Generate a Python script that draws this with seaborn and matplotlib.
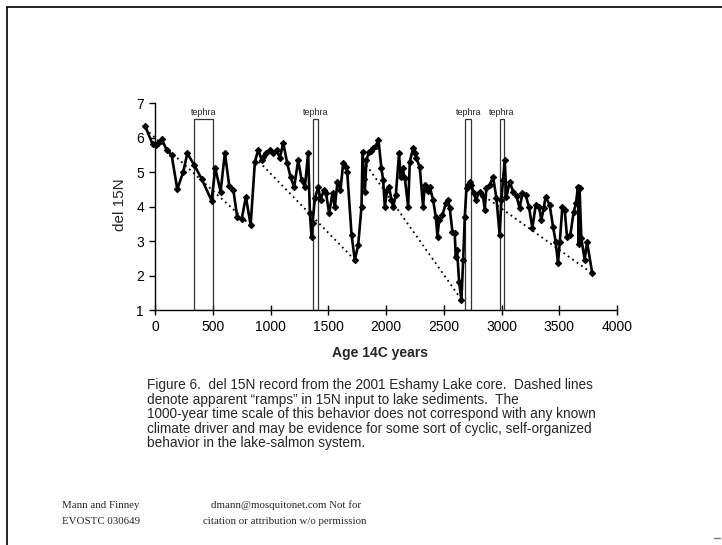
import matplotlib
matplotlib.use("Agg")
import matplotlib.pyplot as plt
from matplotlib.patches import Rectangle
from matplotlib.lines import Line2D
import seaborn as sns
import pandas as pd

# del 15N record, Eshamy Lake 2001 core (age in 14C years)
age_14c = [-85, -20, 10, 30, 58, 101, 144, 193, 245, 280, 340, 404, 490, 522, 568,
           605, 643, 678, 712, 750, 787, 828, 865, 894, 923, 937, 965, 995, 1023,
           1052, 1081, 1110, 1145, 1174, 1205, 1240, 1269, 1298, 1326, 1341, 1355,
           1364, 1384, 1413, 1433, 1462, 1480, 1508, 1537, 1557, 1580, 1606, 1629,
           1652, 1664, 1702, 1730, 1759, 1788, 1797, 1810, 1817, 1831, 1854, 1870,
           1889, 1910, 1935, 1960, 1975, 1990, 2010, 2027, 2047, 2062, 2085, 2113,
           2126, 2143, 2163, 2192, 2206, 2235, 2250, 2263, 2292, 2321, 2336, 2350,
           2365, 2379, 2408, 2431, 2446, 2460, 2489, 2517, 2537, 2552, 2575, 2595,
           2604, 2615, 2633, 2653, 2668, 2682, 2697, 2711, 2725, 2740, 2760, 2777,
           2811, 2840, 2855, 2869, 2898, 2927, 2956, 2984, 2999, 3013, 3028, 3043,
           3071, 3100, 3130, 3157, 3181, 3209, 3238, 3267, 3296, 3325, 3345, 3365,
           3382, 3417, 3446, 3469, 3489, 3505, 3527, 3547, 3567, 3596, 3625, 3645,
           3662, 3668, 3676, 3691, 3720, 3740, 3786]
del15n = [6.33, 5.80, 5.78, 5.85, 5.95, 5.64, 5.49, 4.50, 5.01, 5.54, 5.20, 4.80, 4.17,
          5.11, 4.43, 5.56, 4.59, 4.48, 3.70, 3.63, 4.28, 3.46, 5.30, 5.64, 5.35, 5.44,
          5.55, 5.64, 5.54, 5.64, 5.40, 5.85, 5.25, 4.85, 4.56, 5.35, 4.77, 4.56, 5.56,
          3.80, 3.13, 3.51, 4.24, 4.56, 4.19, 4.48, 4.40, 3.80, 4.40, 3.98, 4.72, 4.48,
          5.25, 5.15, 5.01, 3.17, 2.45, 2.88, 3.99, 5.59, 4.80, 4.43, 5.35, 5.59, 5.62,
          5.69, 5.75, 5.93, 5.11, 4.77, 3.99, 4.48, 4.57, 4.19, 3.99, 4.33, 5.54, 4.86,
          5.11, 4.82, 3.99, 5.30, 5.69, 5.55, 5.40, 5.15, 3.99, 4.62, 4.53, 4.45, 4.56,
          4.19, 3.70, 3.13, 3.61, 3.75, 4.09, 4.19, 3.95, 3.27, 3.22, 2.55, 2.75, 1.82,
          1.29, 2.45, 3.70, 4.53, 4.62, 4.70, 4.62, 4.40, 4.19, 4.43, 4.30, 3.90, 4.53,
          4.62, 4.86, 4.24, 3.17, 4.19, 4.77, 5.35, 4.28, 4.72, 4.43, 4.30, 3.95, 4.38,
          4.33, 3.99, 3.37, 4.04, 3.99, 3.61, 3.95, 4.28, 4.04, 3.42, 2.98, 2.35, 2.98,
          3.99, 3.90, 3.13, 3.17, 3.85, 4.10, 4.57, 2.91, 4.53, 3.08, 2.45, 2.98, 2.06]

# apparent "ramps" in 15N input (start and end of each)
ramp_age_start = [-50, 900, 1830, 2850]
ramp_age_end = [830, 1730, 2655, 3786]
ramp_val_start = [6.15, 5.30, 5.20, 4.30]
ramp_val_end = [3.45, 2.45, 1.29, 2.06]

# tephra layers (age range)
tephra_start = [340, 1364, 2688, 2990]
tephra_end = [505, 1413, 2736, 3019]
tephra_label = ["tephra", "tephra", "tephra", "tephra"]

x_ticks = [0, 500, 1000, 1500, 2000, 2500, 3000, 3500, 4000]
y_ticks = [1, 2, 3, 4, 5, 6, 7]

sns.set_theme(style="white")
plt.rcParams["font.family"] = ["Liberation Sans", "DejaVu Sans"]

fig = plt.figure(figsize=(7.22, 5.45), dpi=100)
fig.patch.set_facecolor("white")
ax = fig.add_axes([143.45 / 722, 1 - 310 / 545, (617 - 143.45) / 722, 207 / 545])
ax.set_facecolor("white")

# tephra boxes
for t0, t1, lab in zip(tephra_start, tephra_end, tephra_label):
    ax.add_patch(Rectangle((t0, 1), t1 - t0, 5.53, fill=False, edgecolor="#333333",
                           linewidth=0.9, zorder=1))
    ax.text((t0 + t1) / 2, 6.72, lab, ha="center", va="center", fontsize=6.5,
            color="#222222")

# ramps
ramps = pd.DataFrame({
    "age": [a for pair in zip(ramp_age_start, ramp_age_end) for a in pair],
    "val": [v for pair in zip(ramp_val_start, ramp_val_end) for v in pair],
    "ramp": [i for i in range(len(ramp_age_start)) for _ in range(2)],
})
for _, grp in ramps.groupby("ramp"):
    sns.lineplot(data=grp, x="age", y="val", ax=ax, color="black", linewidth=1.3,
                 linestyle=(0, (1, 2)), sort=False, zorder=2)

# main record
record = pd.DataFrame({"age": age_14c, "d15n": del15n})
sns.lineplot(data=record, x="age", y="d15n", ax=ax, color="black", linewidth=1.9,
             marker="D", markersize=3.2, markeredgecolor="black", sort=False,
             zorder=3, clip_on=False)

ax.set_xlim(-100, 4000)
ax.set_ylim(1, 7)
ax.set_xticks(x_ticks)
ax.set_yticks(y_ticks)
ax.spines["left"].set_position(("data", 0))
ax.spines["top"].set_visible(False)
ax.spines["right"].set_visible(False)
ax.spines["bottom"].set_bounds(0, 4000)
for s in ("left", "bottom"):
    ax.spines[s].set_color("black")
    ax.spines[s].set_linewidth(1.0)
ax.tick_params(axis="x", direction="inout", length=7, width=1, colors="black",
               labelsize=10, pad=4, bottom=True)
ax.tick_params(axis="y", direction="out", length=4, width=1, colors="black",
               labelsize=10, pad=4, left=True)
ax.grid(False)

ax.set_xlabel("Age 14C years", fontsize=10, fontweight="bold", labelpad=8)
ax.set_ylabel("")
fig.text(120 / 722, 1 - 205 / 545, "del 15N", rotation=90, ha="center", va="center",
         fontsize=11)

caption = ("Figure 6.  del 15N record from the 2001 Eshamy Lake core.  Dashed lines\n"
           "denote apparent \u201cramps\u201d in 15N input to lake sediments.  The\n"
           "1000-year time scale of this behavior does not correspond with any known\n"
           "climate driver and may be evidence for some sort of cyclic, self-organized\n"
           "behavior in the lake-salmon system.")
fig.text(147 / 722, 1 - 378 / 545, caption, ha="left", va="top", fontsize=9.8,
         linespacing=1.05)

serif = ["Liberation Serif", "DejaVu Serif"]
fig.text(62 / 722, 1 - 505 / 545, "Mann and Finney", family=serif, fontsize=7.8,
         ha="left", va="center")
fig.text(62 / 722, 1 - 522 / 545, "EVOSTC 030649", family=serif, fontsize=7.8,
         ha="left", va="center")
fig.text(286 / 722, 1 - 505 / 545, "dmann@mosquitonet.com Not for", family=serif,
         fontsize=7.8, ha="center", va="center")
fig.text(285 / 722, 1 - 522 / 545, "citation or attribution w/o permission",
         family=serif, fontsize=7.8, ha="center", va="center")

# page frame
fig.add_artist(Line2D([7 / 722, 1], [1 - 7 / 545, 1 - 7 / 545],
                      transform=fig.transFigure, color="black", linewidth=1.2))
fig.add_artist(Line2D([7 / 722, 7 / 722], [0, 1 - 7 / 545],
                      transform=fig.transFigure, color="black", linewidth=1.2))
fig.add_artist(Line2D([714 / 722, 720 / 722], [1 - 538 / 545, 1 - 538 / 545],
                      transform=fig.transFigure, color="#777777", linewidth=1.0))

fig.savefig("out.png", dpi=100, facecolor="white")
